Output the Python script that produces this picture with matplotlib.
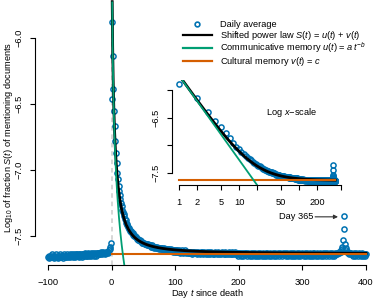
import numpy as np
import matplotlib.pyplot as plt
from matplotlib.lines import Line2D

plt.rcParams['font.family'] = ['Liberation Sans', 'DejaVu Sans']
plt.rcParams['mathtext.fontset'] = 'custom'
plt.rcParams['mathtext.rm'] = 'Liberation Sans'
plt.rcParams['mathtext.it'] = 'Liberation Sans:italic'
plt.rcParams['mathtext.bf'] = 'Liberation Sans:bold'

# daily average, log10 fraction, days -100 .. -1
pre_death = [
    -7.66, -7.65, -7.67, -7.66, -7.65, -7.66, -7.64, -7.66, -7.65, -7.67,
    -7.66, -7.65, -7.66, -7.64, -7.66, -7.67, -7.65, -7.66, -7.65, -7.64,
    -7.65, -7.66, -7.65, -7.67, -7.65, -7.64, -7.66, -7.65, -7.66, -7.65,
    -7.64, -7.65, -7.66, -7.65, -7.64, -7.66, -7.65, -7.64, -7.65, -7.66,
    -7.65, -7.64, -7.65, -7.66, -7.64, -7.65, -7.64, -7.65, -7.66, -7.64,
    -7.65, -7.64, -7.65, -7.64, -7.66, -7.64, -7.65, -7.64, -7.63, -7.65,
    -7.64, -7.65, -7.64, -7.63, -7.65, -7.64, -7.64, -7.65, -7.63, -7.64,
    -7.64, -7.63, -7.65, -7.64, -7.63, -7.64, -7.65, -7.63, -7.64, -7.63,
    -7.64, -7.63, -7.64, -7.63, -7.62, -7.64, -7.63, -7.62, -7.63, -7.64,
    -7.63, -7.62, -7.63, -7.62, -7.63, -7.62, -7.61, -7.60, -7.58, -7.55,
]
day0 = -6.46
# days 1 .. 400
post_death = [
    -5.88, -6.14, -6.39, -6.55, -6.67, -6.78, -6.87, -6.95, -7.02, -7.07,
    -7.12, -7.16, -7.19, -7.22, -7.25, -7.27, -7.30, -7.32, -7.33, -7.35,
    -7.37, -7.38, -7.40, -7.41, -7.42, -7.43, -7.44, -7.45, -7.46, -7.46,
    -7.47, -7.48, -7.48, -7.49, -7.49, -7.50, -7.50, -7.51, -7.51, -7.52,
    -7.52, -7.53, -7.53, -7.53, -7.54, -7.54, -7.54, -7.55, -7.55, -7.55,
    -7.55, -7.56, -7.56, -7.56, -7.56, -7.57, -7.56, -7.57, -7.57, -7.57,
    -7.57, -7.58, -7.57, -7.58, -7.58, -7.58, -7.59, -7.58, -7.58, -7.59,
    -7.59, -7.58, -7.59, -7.59, -7.60, -7.59, -7.59, -7.60, -7.59, -7.60,
    -7.60, -7.59, -7.60, -7.60, -7.61, -7.60, -7.60, -7.61, -7.60, -7.61,
    -7.60, -7.61, -7.61, -7.60, -7.61, -7.61, -7.62, -7.61, -7.61, -7.62,
    -7.61, -7.62, -7.61, -7.62, -7.62, -7.61, -7.62, -7.63, -7.62, -7.61,
    -7.62, -7.62, -7.63, -7.62, -7.61, -7.62, -7.63, -7.62, -7.62, -7.63,
    -7.62, -7.63, -7.62, -7.63, -7.62, -7.63, -7.64, -7.62, -7.63, -7.62,
    -7.63, -7.62, -7.63, -7.64, -7.63, -7.62, -7.63, -7.63, -7.64, -7.62,
    -7.63, -7.62, -7.63, -7.64, -7.63, -7.62, -7.63, -7.64, -7.63, -7.62,
    -7.63, -7.64, -7.62, -7.63, -7.64, -7.63, -7.62, -7.63, -7.64, -7.63,
    -7.64, -7.63, -7.62, -7.63, -7.64, -7.63, -7.63, -7.62, -7.64, -7.63,
    -7.63, -7.64, -7.63, -7.62, -7.63, -7.64, -7.63, -7.64, -7.62, -7.63,
    -7.64, -7.63, -7.63, -7.64, -7.62, -7.63, -7.64, -7.63, -7.62, -7.64,
    -7.63, -7.64, -7.63, -7.62, -7.64, -7.63, -7.64, -7.65, -7.63, -7.64,
    -7.63, -7.64, -7.65, -7.63, -7.64, -7.63, -7.65, -7.64, -7.63, -7.64,
    -7.64, -7.63, -7.65, -7.64, -7.63, -7.64, -7.65, -7.64, -7.63, -7.64,
    -7.65, -7.63, -7.64, -7.64, -7.65, -7.63, -7.64, -7.65, -7.64, -7.63,
    -7.64, -7.65, -7.64, -7.63, -7.64, -7.65, -7.64, -7.63, -7.65, -7.64,
    -7.64, -7.63, -7.65, -7.64, -7.63, -7.64, -7.65, -7.64, -7.63, -7.64,
    -7.65, -7.64, -7.63, -7.64, -7.65, -7.64, -7.63, -7.64, -7.65, -7.64,
    -7.63, -7.64, -7.65, -7.64, -7.63, -7.64, -7.64, -7.65, -7.63, -7.64,
    -7.64, -7.63, -7.64, -7.65, -7.64, -7.63, -7.64, -7.65, -7.64, -7.63,
    -7.64, -7.65, -7.63, -7.64, -7.64, -7.65, -7.63, -7.64, -7.65, -7.64,
    -7.63, -7.64, -7.65, -7.64, -7.63, -7.64, -7.65, -7.64, -7.63, -7.64,
    -7.64, -7.65, -7.64, -7.63, -7.64, -7.65, -7.64, -7.63, -7.64, -7.65,
    -7.64, -7.63, -7.64, -7.65, -7.64, -7.63, -7.65, -7.64, -7.63, -7.64,
    -7.65, -7.64, -7.63, -7.64, -7.65, -7.64, -7.64, -7.63, -7.65, -7.64,
    -7.64, -7.63, -7.65, -7.64, -7.63, -7.64, -7.65, -7.64, -7.63, -7.64,
    -7.64, -7.65, -7.63, -7.64, -7.64, -7.65, -7.63, -7.64, -7.65, -7.64,
    -7.63, -7.64, -7.64, -7.63, -7.64, -7.63, -7.62, -7.63, -7.62, -7.62,
    -7.61, -7.60, -7.58, -7.53, -7.35, -7.45, -7.56, -7.59, -7.61, -7.62,
    -7.63, -7.62, -7.63, -7.64, -7.63, -7.64, -7.63, -7.64, -7.65, -7.64,
    -7.63, -7.64, -7.65, -7.64, -7.63, -7.64, -7.65, -7.64, -7.63, -7.64,
    -7.64, -7.65, -7.64, -7.63, -7.64, -7.65, -7.64, -7.64, -7.65, -7.64,
]

# shifted power law fit: S(t) = a t^-b + c
log_a = -5.73
b = 1.53
log_c = -7.635

legend_labels = [
    'Daily average',
    r'Shifted power law $S(t)$ = $u(t)$ + $v(t)$',
    r'Communicative memory $u(t)$ = $a\,t^{-b}$',
    r'Cultural memory $v(t)$ = $c$',
]

blue = '#0072B2'
green = '#009E73'
orange = '#D55E00'
fs = 6.7
msz = 3.7

days = np.arange(-100, 401)
vals = np.array(pre_death + [day0] + post_death)
t_post = np.arange(1, 401)
post = np.array(post_death)

tt = np.logspace(0, np.log10(400), 400)
u = 10 ** (log_a - b * np.log10(tt))
cc = np.full_like(tt, 10 ** log_c)
S_fit = np.log10(u + cc)
u_fit = np.log10(u)
c_fit = np.log10(cc)

fig = plt.figure(figsize=(3.9, 3.02), dpi=100)

# main panel
ax = fig.add_axes([35 / 390, 37 / 302, 345 / 390, 265 / 302])
ax.axvline(0, color='#cccccc', lw=1.1, ls=(0, (3, 2.5)), zorder=1)
ax.plot(days, vals, 'o', ms=msz, mfc='none', mec=blue, mew=1.1, zorder=2)
ax.plot(tt, S_fit, color='black', lw=2.0, zorder=3)
ax.plot(tt, u_fit, color=green, lw=1.3, zorder=4)
ax.plot(tt, c_fit, color=orange, lw=1.5, zorder=3)

ax.set_xlim(-120.4, 422)
ax.set_ylim(-7.72, -5.712)
for s in ['top', 'right']:
    ax.spines[s].set_visible(False)
ax.spines['left'].set_bounds(-7.5, -6.0)
ax.spines['bottom'].set_bounds(-100, 400)
ax.set_xticks([-100, 0, 100, 200, 300, 400])
ax.set_yticks([-7.5, -7.0, -6.5, -6.0])
ax.set_yticklabels(['\u22127.5', '\u22127.0', '\u22126.5', '\u22126.0'])
ax.tick_params(axis='both', direction='out', length=3.6, width=0.8, labelsize=fs)
ax.tick_params(axis='x', pad=6.0)
ax.tick_params(axis='y', pad=5.0, labelrotation=90)
for lab in ax.get_yticklabels():
    lab.set_va('center')

ax.text(317, -7.355, 'Day 365', ha='right', va='center', fontsize=fs)
ax.annotate('', xy=(356, -7.355), xytext=(320, -7.355),
            arrowprops=dict(arrowstyle='-|>', color='#333333', lw=0.8,
                            mutation_scale=6, shrinkA=0, shrinkB=0))

fig.text(9 / 390, 1 - 137 / 302,
         r'Log$_{10}$ of fraction $S(t)$ of mentioning documents',
         rotation=90, ha='center', va='center', fontsize=fs)
fig.text(207 / 390, 1 - 294 / 302, r'Day $t$ since death',
         ha='center', va='center', fontsize=fs)

# legend, drawn by hand in figure pixels
W, H = 390, 302
row_y = [24, 35, 48.3, 60.7]
fig.add_artist(Line2D([197 / W], [1 - row_y[0] / H], ls='none', marker='o', ms=3.4,
                      mfc='none', mec=blue, mew=1.2, transform=fig.transFigure))
for yy, col in zip(row_y[1:], ['black', green, orange]):
    fig.add_artist(Line2D([183 / W, 212 / W], [1 - yy / H, 1 - yy / H], color=col,
                          lw=1.6, transform=fig.transFigure))
for yy, lab in zip(row_y, legend_labels):
    fig.text(220 / W, 1 - (yy + 3) / H, lab, ha='left', va='baseline', fontsize=fs)

# inset with log x-scale
ax2 = fig.add_axes([172 / 390, (302 - 185) / 302, 173 / 390, 105 / 302])
ax2.patch.set_alpha(0)
ax2.plot(t_post, post, 'o', ms=msz, mfc='none', mec=blue, mew=1.1, zorder=2)
ax2.plot(tt, S_fit, color='black', lw=2.0, zorder=3)
ax2.plot(tt, u_fit, color=green, lw=1.3, zorder=4)
ax2.plot(tt, c_fit, color=orange, lw=1.5, zorder=3)
ax2.set_xscale('log')
ax2.set_xlim(0.764, 584)
ax2.set_ylim(-7.72, -5.81)
for s in ['top', 'right']:
    ax2.spines[s].set_visible(False)
ax2.spines['left'].set_bounds(-7.5, -6.0)
ax2.spines['bottom'].set_bounds(1, 500)
ax2.set_xticks([1, 2, 5, 10, 20, 50, 100, 200, 500])
ax2.set_xticklabels(['1', '2', '5', '10', '', '50', '', '200', ''])
ax2.xaxis.set_minor_locator(plt.NullLocator())
ax2.set_yticks([-7.5, -7.0, -6.5, -6.0])
ax2.set_yticklabels(['\u22127.5', '', '\u22126.5', ''])
ax2.tick_params(axis='both', direction='out', length=3.6, width=0.8, labelsize=fs)
ax2.tick_params(axis='x', pad=6.0)
ax2.tick_params(axis='y', pad=5.0, labelrotation=90)
for lab in ax2.get_yticklabels():
    lab.set_va('center')
ax2.text(0.694, 0.695, 'Log $x$\u2212scale', transform=ax2.transAxes,
         ha='center', va='center', fontsize=fs)

fig.savefig('out.png', dpi=100)
